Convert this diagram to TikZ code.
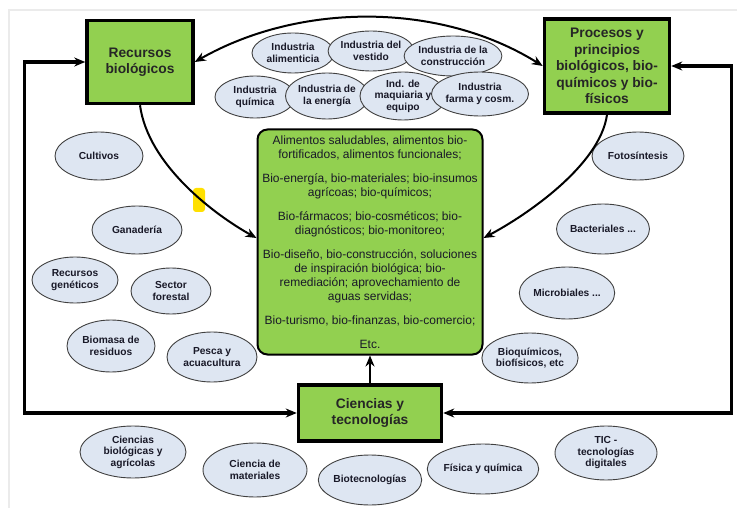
\documentclass[tikz,border=0pt]{standalone}
\usepackage{fontspec}
\setmainfont{Liberation Sans}
\usetikzlibrary{arrows.meta,shapes.geometric}
\definecolor{verde}{RGB}{146,208,80}
\definecolor{celeste}{RGB}{222,230,242}
\definecolor{tinta}{RGB}{25,25,40}
\definecolor{amarillo}{RGB}{255,224,0}

\begin{document}
\begin{tikzpicture}[
    x=1pt, y=-1pt, >={Stealth[length=11pt,width=9pt]}, thick,
    every node/.style={font=\fontsize{10.2}{11.5}\selectfont},
    caja/.style={draw, line width=3.5pt, fill=verde, align=center, inner sep=2pt,
        text=black!85, font=\fontsize{13.8}{16.5}\selectfont\bfseries},
    elip/.style={ellipse, draw=black!75, line width=0.9pt, fill=celeste, align=center,
        inner sep=0pt, text=tinta, font=\fontsize{10.2}{11.5}\selectfont\bfseries},
    enlace/.style={line width=3.2pt, <->},
    flecha/.style={line width=2pt, ->}
]
\useasboundingbox (0,0) rectangle (737,508);
\draw[black!8, line width=1.5pt] (9,508) -- (9,10) -- (737,10);

% cajas principales
\node[caja, minimum width=106pt, minimum height=83pt] (rec) at (140,62) {Recursos\\biológicos};
\node[caja, minimum width=125pt, minimum height=94pt] (proc) at (607,66)
    {Procesos y\\principios\\biológicos, bio-\\químicos y bio-\\físicos};
\node[caja, minimum width=143pt, minimum height=56pt] (cien) at (370,413) {Ciencias y\\tecnologías};
\node[draw, line width=2pt, fill=verde, rounded corners=10pt, align=center, text=tinta,
    minimum width=225pt, minimum height=225pt,
    font=\fontsize{12}{14}\selectfont] (prod) at (370,242)
    {Alimentos saludables, alimentos bio-\\fortificados, alimentos funcionales;\\[10pt]
     Bio-energía, bio-materiales; bio-insumos\\agrícoas; bio-químicos;\\[10pt]
     Bio-fármacos; bio-cosméticos; bio-\\diagnósticos; bio-monitoreo;\\[10pt]
     Bio-diseño, bio-construcción, soluciones\\de inspiración biológica; bio-\\remediación; aprovechamiento de\\aguas servidas;\\[10pt]
     Bio-turismo, bio-finanzas, bio-comercio;\\[10pt]
     Etc.};

% industrias
\node[elip, minimum width=82pt, minimum height=40pt] (alim) at (293,53) {Industria\\alimenticia};
\node[elip, minimum width=84pt, minimum height=40pt] (vest) at (371,51) {Industria del\\vestido};
\node[elip, minimum width=96pt, minimum height=40pt] (cons) at (453,56) {Industria de la\\construcción};
\node[elip, minimum width=80pt, minimum height=42pt] (quim) at (255,97) {Industria\\química};
\node[elip, minimum width=83pt, minimum height=46pt] (ener) at (327,96) {Industria de\\la energía};
\node[elip, minimum width=86pt, minimum height=48pt] (maqu) at (403,96) {Ind. de\\maquiaria y\\equipo};
\node[elip, minimum width=86pt, minimum height=44pt] (farm) at (480,94) {Industria\\farma y cosm.};

% recursos
\node[elip, minimum width=88pt, minimum height=48pt] (cult) at (99,156) {Cultivos};
\node[elip, minimum width=90pt, minimum height=48pt] (gana) at (137,230) {Ganadería};
\node[elip, minimum width=86pt, minimum height=46pt] (gene) at (75,280) {Recursos\\genéticos};
\node[elip, minimum width=80pt, minimum height=46pt] (fore) at (171,291) {Sector\\forestal};
\node[elip, minimum width=88pt, minimum height=52pt] (biom) at (111,346) {Biomasa de\\residuos};
\node[elip, minimum width=90pt, minimum height=50pt] (pesc) at (212,357) {Pesca y\\acuacultura};

% procesos
\node[elip, minimum width=92pt, minimum height=48pt] (foto) at (638,156) {Fotosíntesis};
\node[elip, minimum width=92pt, minimum height=50pt] (bact) at (603,229) {Bacteriales ...};
\node[elip, minimum width=94pt, minimum height=52pt] (micr) at (567,293) {Microbiales ...};
\node[elip, minimum width=92pt, minimum height=50pt] (bioq) at (530,358) {Bioquímicos,\\biofísicos, etc};

% ciencias
\node[elip, minimum width=106pt, minimum height=52pt] (cbio) at (133,452) {Ciencias\\biológicas y\\agrícolas};
\node[elip, minimum width=104pt, minimum height=54pt] (cmat) at (255,470) {Ciencia de\\materiales};
\node[elip, minimum width=100pt, minimum height=50pt] (btec) at (370,480) {Biotecnologías};
\node[elip, minimum width=102pt, minimum height=50pt] (fisq) at (483,469) {Física y química};
\node[elip, minimum width=102pt, minimum height=54pt] (tic) at (606,453) {TIC -\\tecnologías\\digitales};

\fill[amarillo, rounded corners=3pt] (193,188) rectangle (205,212);

\draw[flecha, <->] (rec.east) .. controls (300,2) and (440,2) .. (proc.west);
\draw[flecha] (rec.south) .. controls (148,165) and (215,215) .. ([yshift=4pt]prod.west);
\draw[flecha] (proc.south) .. controls (600,165) and (527,215) .. ([yshift=4pt]prod.east);
\draw[flecha] (cien.north) -- (prod.south);
\draw[enlace] (rec.west) -- ++(-61,0) |- (cien.west);
\draw[enlace] (proc.east) -- ++(60,0) |- (cien.east);
\end{tikzpicture}
\end{document}
